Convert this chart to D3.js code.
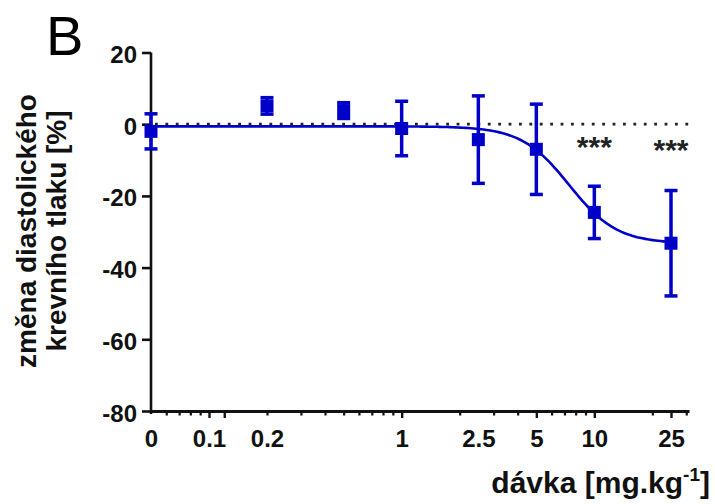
<!DOCTYPE html>
<html>
<head>
<meta charset="utf-8">
<script src="https://cdn.jsdelivr.net/npm/d3@7"></script>
<style>
  body { margin: 0; background: #fff; }
  text { font-family: Arial, "Liberation Sans", Helvetica, sans-serif; }
</style>
</head>
<body>
<svg id="chart" width="715" height="504"></svg>
<script>
// Dose groups (mg/kg); the vehicle group "0" sits at the left end of the log axis
const doses = [0, 0.2, 0.5, 1, 2.5, 5, 10, 25];
const meanChange = [-2.0, 5.1, 3.8, -1.2, -4.3, -7.0, -24.6, -33.2];
const sdChange = [4.9, 2.3, 2.2, 7.6, 12.2, 12.6, 7.3, 14.7];
const significantDoses = [10, 25];
const significanceMark = "***";

// Fitted dose-response (sigmoid) parameters
const fitTop = -0.6;
const fitBottom = -33.3;
const fitEC50 = 7.4;
const fitHill = 3.5;

// Axis ticks
const zeroDosePosition = 0.05;
const xLabelValues = [0.05, 0.1, 0.2, 1, 2.5, 5, 10, 25];
const xLabelTexts = ["0", "0.1", "0.2", "1", "2.5", "5", "10", "25"];
const xMajorTicks = [0.1, 0.12, 1, 5, 10, 25];
const xMinorTicks = [0.06, 0.07, 0.08, 0.09, 0.2, 0.3, 0.4, 0.5, 0.6, 0.7, 0.8, 0.9,
                     2, 3, 4, 6, 7, 8, 9, 20, 30];
const yTicks = [20, 0, -20, -40, -60, -80];

const blue = "#0000c8";
const svg = d3.select("#chart");

const x = d3.scaleLog().domain([zeroDosePosition, 31]).range([151, 689]);
const y = d3.scaleLinear().domain([-80, 20]).range([411, 52.5]);
const xPos = d => x(d === 0 ? zeroDosePosition : d);

// Panel letter
svg.append("text")
  .attr("x", 46).attr("y", 55)
  .attr("font-size", 56)
  .text("B");

// Y axis
const yAxis = svg.append("g")
  .attr("transform", `translate(${x(zeroDosePosition)},0)`)
  .call(d3.axisLeft(y).tickValues(yTicks).tickSize(9).tickSizeOuter(0).tickPadding(5)
    .tickFormat(d => String(d)));
yAxis.select(".domain").attr("stroke", "#111").attr("stroke-width", 2.6)
  .attr("d", `M0,${y(20)}V${y(-80) + 3}`);
yAxis.selectAll(".tick line").attr("stroke", "#111").attr("stroke-width", 2.6);
yAxis.selectAll(".tick text")
  .attr("font-size", 24).attr("font-weight", "bold").attr("fill", "#111")
  .attr("font-family", "Arial, 'Liberation Sans', sans-serif")
  .attr("dy", "0.42em");

// X axis: major ticks, minor ticks, then labels
const xAxisY = y(-80);
const xMajor = svg.append("g")
  .attr("transform", `translate(0,${xAxisY})`)
  .call(d3.axisBottom(x).tickValues(xMajorTicks).tickSize(7).tickSizeOuter(0).tickFormat(""));
xMajor.select(".domain").attr("stroke", "#111").attr("stroke-width", 3);
xMajor.selectAll(".tick line").attr("stroke", "#111").attr("stroke-width", 2.4);

const xMinor = svg.append("g")
  .attr("transform", `translate(0,${xAxisY})`)
  .call(d3.axisBottom(x).tickValues(xMinorTicks).tickSize(4.5).tickSizeOuter(0).tickFormat(""));
xMinor.select(".domain").remove();
xMinor.selectAll(".tick line").attr("stroke", "#111").attr("stroke-width", 2.2);

const xLabels = svg.append("g")
  .attr("transform", `translate(0,${xAxisY})`)
  .call(d3.axisBottom(x).tickValues(xLabelValues).tickSize(0).tickPadding(36)
    .tickFormat((d, i) => xLabelTexts[i]));
xLabels.select(".domain").remove();
xLabels.selectAll(".tick text")
  .attr("font-size", 24).attr("font-weight", "bold").attr("fill", "#111")
  .attr("font-family", "Arial, 'Liberation Sans', sans-serif")
  .attr("dy", 0);

// Axis titles
const yTitle = svg.append("text")
  .attr("transform", "translate(0,231) rotate(-90)")
  .attr("text-anchor", "middle")
  .attr("font-size", 28).attr("font-weight", "bold").attr("fill", "#111");
yTitle.append("tspan").attr("x", 0).attr("y", 36).text("změna diastolického");
yTitle.append("tspan").attr("x", 0).attr("y", 66).text("krevního tlaku [%]");

const xTitle = svg.append("text")
  .attr("x", 710).attr("y", 493)
  .attr("text-anchor", "end")
  .attr("font-size", 30).attr("font-weight", "bold").attr("fill", "#111");
xTitle.append("tspan").text("dávka [mg.kg");
xTitle.append("tspan").attr("font-size", 19).attr("dy", -12).text("-1");
xTitle.append("tspan").attr("dy", 12).text("]");

// Zero reference line
svg.append("line")
  .attr("x1", x(zeroDosePosition) + 4).attr("x2", x(31))
  .attr("y1", y(0)).attr("y2", y(0))
  .attr("stroke", "#222").attr("stroke-width", 2.8)
  .attr("stroke-dasharray", "2.8,7.6");

// Fitted curve
const sigmoid = d => fitBottom + (fitTop - fitBottom) / (1 + Math.pow(d / fitEC50, fitHill));
const curveDoses = d3.range(0, 201).map(i =>
  Math.pow(10, Math.log10(zeroDosePosition) + i / 200 * (Math.log10(25) - Math.log10(zeroDosePosition))));
svg.append("path")
  .datum(curveDoses)
  .attr("fill", "none").attr("stroke", blue).attr("stroke-width", 2.6)
  .attr("d", d3.line().x(d => x(d)).y(d => y(sigmoid(d))));

// Error bars (mean ± SD) and square markers
const points = doses.map((d, i) => ({ dose: d, mean: meanChange[i], sd: sdChange[i] }));
const capHalf = 6.5;
const bars = svg.append("g").attr("stroke", blue).attr("stroke-width", 3.5);
points.forEach(p => {
  const cx = xPos(p.dose);
  bars.append("line").attr("x1", cx).attr("x2", cx)
    .attr("y1", y(p.mean + p.sd)).attr("y2", y(p.mean - p.sd));
  bars.append("line").attr("x1", cx - capHalf).attr("x2", cx + capHalf)
    .attr("y1", y(p.mean + p.sd)).attr("y2", y(p.mean + p.sd));
  bars.append("line").attr("x1", cx - capHalf).attr("x2", cx + capHalf)
    .attr("y1", y(p.mean - p.sd)).attr("y2", y(p.mean - p.sd));
});
const markerSize = 13;
svg.append("g").selectAll("rect")
  .data(points).join("rect")
  .attr("x", p => xPos(p.dose) - markerSize / 2)
  .attr("y", p => y(p.mean) - markerSize / 2)
  .attr("width", markerSize).attr("height", markerSize)
  .attr("fill", blue);

// Significance marks
svg.append("g").selectAll("text")
  .data(significantDoses).join("text")
  .attr("x", d => xPos(d))
  .attr("y", (d, i) => y(0) + 33 + i * 3)
  .attr("text-anchor", "middle")
  .attr("font-size", 30).attr("font-weight", "bold").attr("fill", "#222")
  .text(significanceMark);
</script>
</body>
</html>
